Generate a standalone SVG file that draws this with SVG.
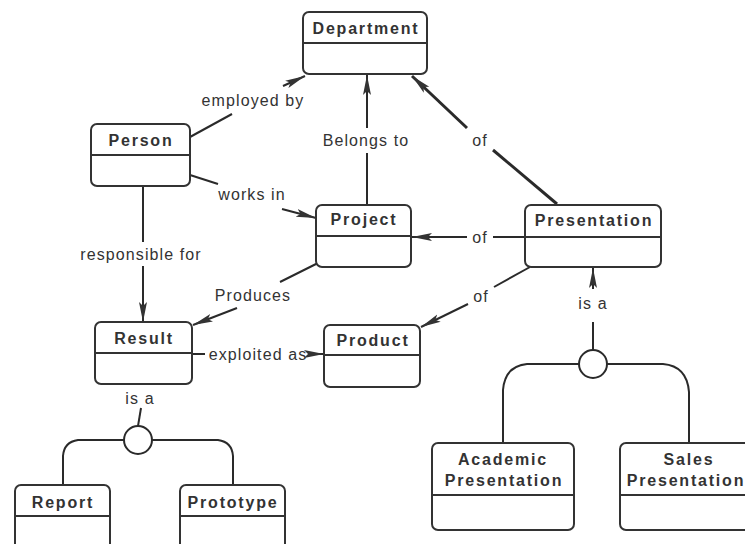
<svg xmlns="http://www.w3.org/2000/svg" width="745" height="544" viewBox="0 0 745 544">
<style>
.box{fill:#fff;stroke:#333;stroke-width:2}
.div{stroke:#333;stroke-width:2}
.nl{font-family:"Liberation Sans",Arial,Helvetica,sans-serif;font-weight:bold;font-size:16px;letter-spacing:1.8px;fill:#333;text-anchor:middle}
.el{font-family:"Liberation Sans",Arial,Helvetica,sans-serif;font-size:16px;letter-spacing:1.1px;fill:#333;text-anchor:middle}
.ln{fill:none;stroke:#2a2a2a;stroke-width:2}
.thick{stroke-width:3}
.circ{fill:#fff;stroke:#2a2a2a;stroke-width:2}
</style>
<defs>
<marker id="ah" markerWidth="20" markerHeight="10" refX="20" refY="5" orient="auto" markerUnits="userSpaceOnUse">
<path d="M0,1 L20,5 L0,9 L4,5 Z" fill="#333"/>
</marker>
</defs>
<rect width="745" height="544" fill="#fff"/>

<g id="connectors">
<path class="ln" d="M190,137 L232,114"/>
<path class="ln" d="M283,86 L305,76" marker-end="url(#ah)"/>
<text class="el" x="253" y="106">employed by</text>

<path class="ln" d="M190,175 L218,184"/>
<path class="ln" d="M282,209 L316,218" marker-end="url(#ah)"/>
<text class="el" x="252" y="200">works in</text>

<path class="ln" d="M367,204 L367,153"/>
<path class="ln" d="M367,128 L367,75" marker-end="url(#ah)"/>
<text class="el" x="366" y="146">Belongs to</text>

<path class="ln thick" d="M557,204 L493,150"/>
<path class="ln thick" d="M467,128 L412,76" marker-end="url(#ah)"/>
<text class="el" x="480" y="146">of</text>

<path class="ln" d="M525,237 L493,237"/>
<path class="ln" d="M467,237 L412,237" marker-end="url(#ah)"/>
<text class="el" x="480" y="243">of</text>

<path class="ln" d="M318,263 L280,282"/>
<path class="ln" d="M237,308 L193,325" marker-end="url(#ah)"/>
<text class="el" x="253" y="301">Produces</text>

<path class="ln" d="M143,186 L143,242"/>
<path class="ln" d="M143,266 L143,322" marker-end="url(#ah)"/>
<text class="el" x="141" y="260">responsible for</text>

<path class="ln" d="M192,354 L205,354"/>
<path class="ln" d="M308,354 L324,354" marker-end="url(#ah)"/>
<text class="el" x="258" y="360">exploited as</text>

<path class="ln" d="M530,267 L494,287"/>
<path class="ln" d="M468,304 L421,327" marker-end="url(#ah)"/>
<text class="el" x="481" y="302">of</text>

<path class="ln" d="M593,322 L593,350"/>
<path class="ln" d="M593,289 L593,268" marker-end="url(#ah)"/>
<text class="el" x="593" y="309">is a</text>
<path class="ln" d="M579,364 L527,364 Q505,366 503,390 L503,443"/>
<path class="ln" d="M607,364 L663,364 Q687,366 689,392 L689,443"/>
<circle class="circ" cx="593" cy="364" r="14"/>

<path class="ln" d="M141,408 L138,426"/>
<text class="el" x="140" y="404">is a</text>
<path class="ln" d="M124,440 L78,440 Q64,442 63,456 L63,485"/>
<path class="ln" d="M152,440 L218,440 Q232,442 233,456 L233,485"/>
<circle class="circ" cx="138" cy="440" r="14"/>
</g>

<g id="department">
<rect class="box" x="303" y="12" width="124" height="62" rx="6"/>
<line class="div" x1="303" y1="43" x2="427" y2="43"/>
<text class="nl" x="366" y="34">Department</text>
</g>
<g id="person">
<rect class="box" x="91" y="124" width="99" height="62" rx="6"/>
<line class="div" x1="91" y1="155" x2="190" y2="155"/>
<text class="nl" x="141" y="146">Person</text>
</g>
<g id="project">
<rect class="box" x="316" y="205" width="95" height="62" rx="6"/>
<line class="div" x1="316" y1="236" x2="411" y2="236"/>
<text class="nl" x="364" y="225">Project</text>
</g>
<g id="presentation">
<rect class="box" x="525" y="205" width="136" height="62" rx="6"/>
<line class="div" x1="525" y1="237" x2="661" y2="237"/>
<text class="nl" x="594" y="226">Presentation</text>
</g>
<g id="result">
<rect class="box" x="95" y="322" width="97" height="62" rx="6"/>
<line class="div" x1="95" y1="353" x2="192" y2="353"/>
<text class="nl" x="144" y="344">Result</text>
</g>
<g id="product">
<rect class="box" x="324" y="325" width="96" height="62" rx="6"/>
<line class="div" x1="324" y1="355" x2="420" y2="355"/>
<text class="nl" x="373" y="346">Product</text>
</g>
<g id="report">
<rect class="box" x="15" y="485" width="95" height="75" rx="6"/>
<line class="div" x1="15" y1="516" x2="110" y2="516"/>
<text class="nl" x="63" y="508">Report</text>
</g>
<g id="prototype">
<rect class="box" x="180" y="485" width="105" height="75" rx="6"/>
<line class="div" x1="180" y1="516" x2="285" y2="516"/>
<text class="nl" x="233" y="508">Prototype</text>
</g>
<g id="academic-presentation">
<rect class="box" x="432" y="443" width="142" height="87" rx="6"/>
<line class="div" x1="432" y1="495" x2="574" y2="495"/>
<text class="nl" x="503" y="465">Academic</text>
<text class="nl" x="504" y="486">Presentation</text>
</g>
<g id="sales-presentation">
<rect class="box" x="620" y="443" width="140" height="87" rx="6"/>
<line class="div" x1="620" y1="495" x2="760" y2="495"/>
<text class="nl" x="689" y="465">Sales</text>
<text class="nl" x="686" y="486">Presentation</text>
</g>
</svg>
